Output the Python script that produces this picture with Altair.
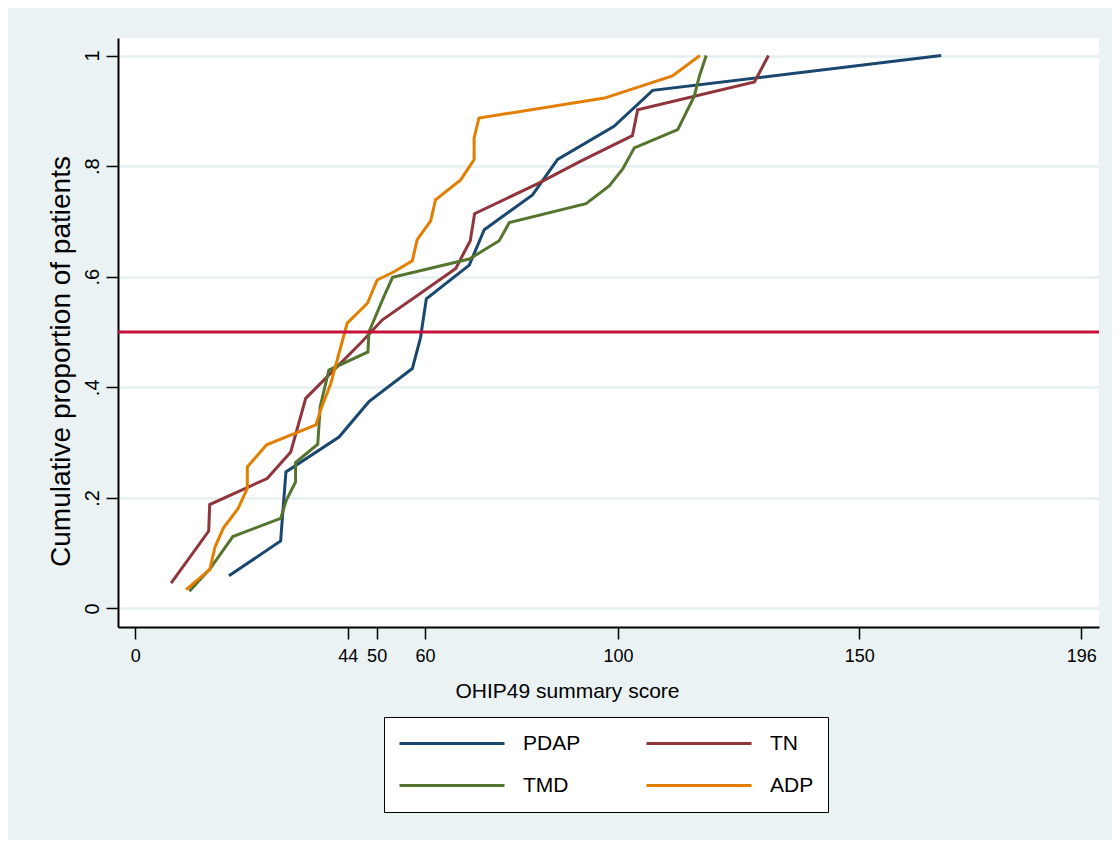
import altair as alt
import pandas as pd

groups = ["PDAP", "TN", "TMD", "ADP"]
colors = ["#1a476f", "#90353b", "#55752f", "#e37e00"]

pdap_x = [19.4, 30.1, 31.2, 42.2, 48.4, 57.4, 59.1, 60.3, 69.2, 72.3, 82.3, 87.5, 99.2, 107.2, 167.0]
pdap_y = [0.059, 0.122, 0.247, 0.31, 0.374, 0.434, 0.49, 0.56, 0.621, 0.685, 0.748, 0.812, 0.872, 0.937, 1.0]

tn_x = [7.4, 15.2, 15.4, 27.3, 32.2, 35.3, 46.7, 51.2, 59.1, 66.4, 69.4, 70.3, 83.3, 92.3, 103.0, 104.1, 128.3, 131.2]
tn_y = [0.046, 0.14, 0.188, 0.235, 0.283, 0.38, 0.48, 0.522, 0.57, 0.615, 0.665, 0.714, 0.768, 0.809, 0.855, 0.902, 0.952, 1.0]

tmd_x = [11.2, 15.5, 20.2, 30.1, 31.3, 33.2, 33.2, 37.8, 38.3, 40.1, 48.2, 48.4, 51.5, 53.3, 69.2, 75.4, 77.5, 93.4, 98.2, 101.0, 103.4, 112.4, 115.8, 116.9, 118.3]
tmd_y = [0.031, 0.072, 0.13, 0.163, 0.196, 0.229, 0.264, 0.297, 0.365, 0.431, 0.464, 0.50, 0.564, 0.599, 0.632, 0.665, 0.698, 0.732, 0.764, 0.795, 0.833, 0.866, 0.926, 0.963, 1.0]

adp_x = [10.5, 15.4, 16.5, 18.2, 21.3, 23.2, 23.2, 27.2, 37.4, 38.4, 40.5, 43.9, 48.1, 50.1, 53.6, 57.4, 58.4, 61.2, 62.2, 67.4, 70.2, 70.2, 71.2, 97.2, 111.3, 117.0]
adp_y = [0.034, 0.07, 0.111, 0.145, 0.181, 0.217, 0.256, 0.296, 0.332, 0.359, 0.407, 0.516, 0.552, 0.594, 0.609, 0.629, 0.667, 0.701, 0.739, 0.775, 0.812, 0.851, 0.887, 0.923, 0.963, 1.0]

ref_line = [0.5]

x_ticks = [0, 44, 50, 60, 100, 150, 196]
y_ticks = [0, 0.2, 0.4, 0.6, 0.8, 1.0]
y_tick_labels = ["0", ".2", ".4", ".6", ".8", "1"]

rows = []
for g, xs, ys in zip(groups, [pdap_x, tn_x, tmd_x, adp_x], [pdap_y, tn_y, tmd_y, adp_y]):
    for i, (xv, yv) in enumerate(zip(xs, ys)):
        rows.append({"group": g, "score": xv, "prop": yv, "order": i})
df = pd.DataFrame(rows)

label_expr = "".join(
    f"abs(datum.value - {v}) < 1e-6 ? '{l}' : " for v, l in zip(y_ticks, y_tick_labels)
) + "''"

FONT = "Liberation Sans, Arial"

xscale = alt.Scale(domain=[-3.6, 199.7], nice=False, zero=False)
yscale = alt.Scale(domain=[-0.0335, 1.0317], nice=False, zero=False)

x_axis = alt.Axis(
    values=x_ticks, format="d", labelFont=FONT, labelFontSize=18, labelColor="black",
    labelPadding=8, labelOverlap=False, labelFlush=False, tickSize=12, tickColor="black",
    tickWidth=1.5, domainColor="black", domainWidth=2, grid=False,
    title="OHIP49 summary score", titleFont=FONT, titleFontSize=21,
    titleFontWeight="normal", titleColor="black", titleX=449, titleY=70,
    titleAlign="center", titleBaseline="alphabetic",
)
y_axis = alt.Axis(
    values=y_ticks, labelExpr=label_expr, labelAngle=270, labelAlign="center",
    labelBaseline="alphabetic", labelFont=FONT, labelFontSize=20, labelColor="black",
    labelPadding=8, labelOverlap=False, labelFlush=False, tickSize=12, tickColor="black",
    tickWidth=1.5, domainColor="black", domainWidth=2, grid=True, gridColor="#e6eff1",
    gridWidth=2.5, title="Cumulative proportion of patients", titleFont=FONT,
    titleFontSize=28, titleFontWeight="normal", titleColor="black", titleAngle=270,
    titleX=-49, titleY=323, titleAlign="center", titleBaseline="alphabetic",
)

lines = alt.Chart(df).mark_line(strokeWidth=3).encode(
    x=alt.X("score:Q", scale=xscale, axis=x_axis),
    y=alt.Y("prop:Q", scale=yscale, axis=y_axis),
    color=alt.Color(
        "group:N",
        scale=alt.Scale(domain=groups, range=colors),
        sort=groups,
        legend=alt.Legend(
            orient="none", legendX=266, legendY=679, columns=2, direction="horizontal",
            title=None, symbolType="stroke", symbolSize=11025, symbolStrokeWidth=3,
            clipHeight=25, labelFont=FONT, labelFontSize=21, labelColor="black",
            labelOffset=17, columnPadding=64, rowPadding=17, padding=14,
            strokeColor="black", fillColor="white",
        ),
    ),
    order="order:Q",
)

rule = alt.Chart(pd.DataFrame({"ref": ref_line})).mark_rule(
    color="#c8103a", strokeWidth=3
).encode(y=alt.Y("ref:Q", scale=yscale))

chart = alt.layer(lines, rule).properties(
    width=981, height=589,
    padding={"left": 110, "top": 30, "right": 13, "bottom": 213},
    autosize=alt.AutoSizeParams(type="none"),
    background="#eaf2f3",
).configure_view(fill="white", stroke=None)

chart.save("out.html", embed_options={"renderer": "svg", "actions": False})
